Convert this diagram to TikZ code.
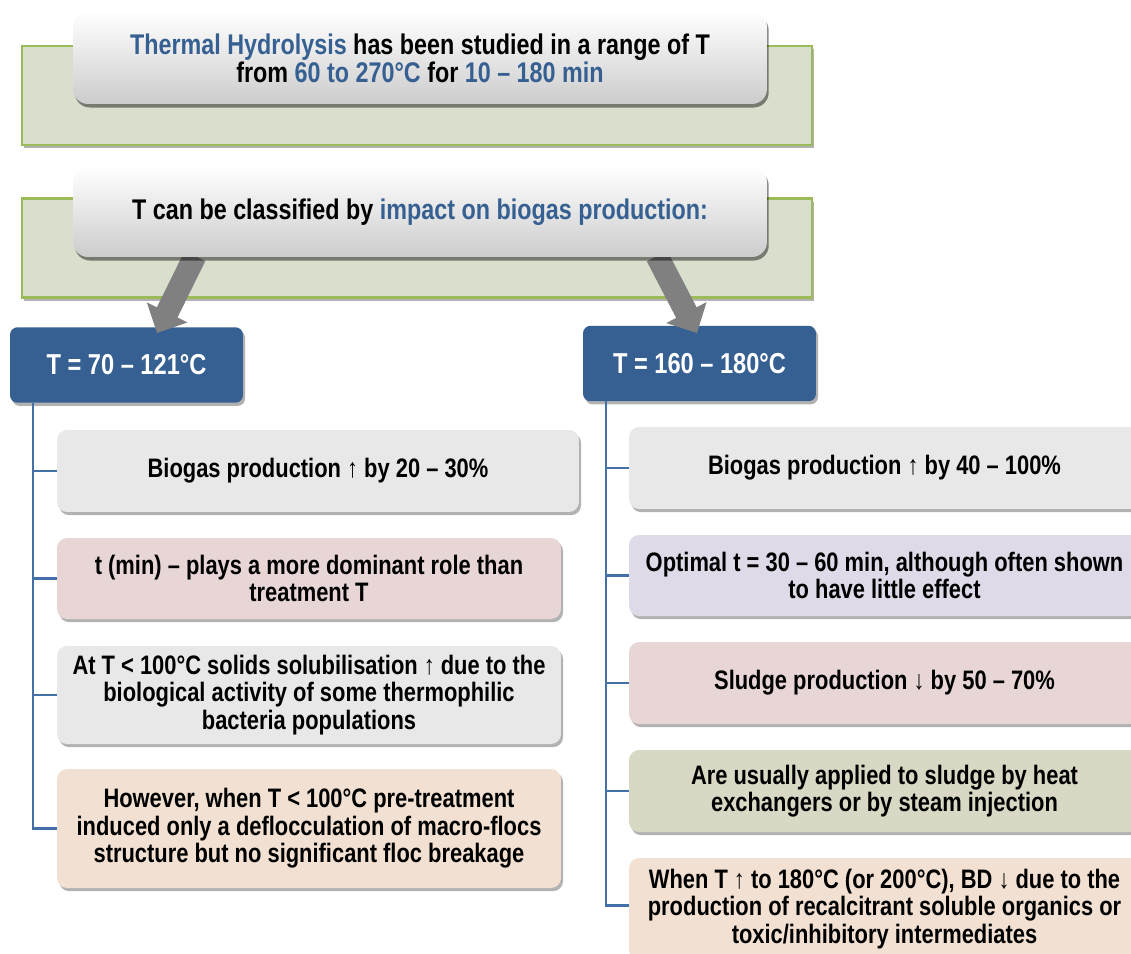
\documentclass[tikz,border=0pt]{standalone}
\usepackage{fontspec}
\setmainfont{Liberation Sans}[FakeStretch=0.82]
\usetikzlibrary{arrows.meta,shadows,calc}
\definecolor{tblue}{HTML}{366092}
\definecolor{bluebox}{HTML}{376092}
\definecolor{linecol}{HTML}{4470A8}
\definecolor{greenfill}{HTML}{D8DFCC}
\definecolor{greenline}{HTML}{9BBB59}
\definecolor{cgray}{HTML}{E8E8E8}
\definecolor{cpink}{HTML}{E8D6D7}
\definecolor{clav}{HTML}{DFDAE7}
\definecolor{colive}{HTML}{D8D8C5}
\definecolor{cpeach}{HTML}{F2E1D3}
\definecolor{arrowgray}{HTML}{808080}
\begin{document}
\begin{tikzpicture}[x=0.02cm,y=-0.02cm,
  font=\fontsize{15.2}{15.6}\selectfont\bfseries,
  shad/.style={drop shadow={shadow xshift=1.2pt,shadow yshift=-1.8pt,opacity=0.3,fill=black}},
  greenbox/.style={draw=greenline,line width=1.2pt,fill=greenfill,minimum width=15.8cm,minimum height=1.98cm,inner sep=0pt,shad},
  titlebox/.style={rounded corners=0.3cm,top color=white,bottom color=black!20,minimum width=13.88cm,inner sep=0pt,align=center,
     drop shadow={shadow xshift=1pt,shadow yshift=-2pt,opacity=0.45,fill=black},font=\fontsize{16.2}{15.8}\selectfont\bfseries},
  tbox/.style={rounded corners=0.15cm,fill=bluebox,text=white,minimum width=4.66cm,minimum height=1.51cm,inner sep=0pt,
     font=\fontsize{16.4}{16}\selectfont\bfseries,shad},
  item/.style={rounded corners=0.2cm,inner sep=0pt,align=center,shad},
  conn/.style={draw=linecol,line width=1.6pt},
  bigarrow/.style={draw=arrowgray,line width=0.46cm,-{Triangle[width=0.88cm,length=0.46cm]}}
]
\useasboundingbox (0,0) rectangle (1131,953);
\clip (0,0) rectangle (1131,953);
% green backgrounds
\node[greenbox] (g1) at (417,95.5) {};
\node[greenbox] (g2) at (417,248) {};
% blue headers
\node[tbox] (h1) at (126.5,365) {T = 70 – 121°C};
\node[tbox] (h2) at (699.5,363.5) {T = 160 – 180°C};
% arrows
\coordinate (a1from) at (195,256);
\coordinate (a1to) at (157,333);
\coordinate (a2from) at (657,256);
\coordinate (a2to) at (697,333);
\draw[bigarrow] (a1from) -- (a1to);
\draw[bigarrow] (a2from) -- (a2to);
% title boxes
\node[titlebox,minimum height=1.84cm] (b1) at (420,58)
  {\textcolor{tblue}{Thermal Hydrolysis} has been studied in a range of T\\
   from \textcolor{tblue}{60 to 270°C} for \textcolor{tblue}{10 – 180 min}};
\node[titlebox,minimum height=1.8cm] (b2) at (420,212)
  {T can be classified by \textcolor{tblue}{impact on biogas production:}};
% left items
\node[item,fill=cgray,minimum width=10.44cm,minimum height=1.64cm] (l1) at (318,471)
  {Biogas production ↑ by 20 – 30\%};
\node[item,fill=cpink,minimum width=10.08cm,minimum height=1.62cm] (l2) at (309,578.5)
  {t (min) – plays a more dominant role than\\ treatment T};
\node[item,fill=cgray,minimum width=10.08cm,minimum height=1.96cm] (l3) at (309,695)
  {At T < 100°C solids solubilisation ↑ due to the\\ biological activity of some thermophilic\\ bacteria populations};
\node[item,fill=cpeach,minimum width=10.08cm,minimum height=2.38cm] (l4) at (309,828.5)
  {However, when T < 100°C pre-treatment\\ induced only a deflocculation of macro-flocs\\ structure but no significant floc breakage};
% right items
\node[item,fill=cgray,minimum width=10.22cm,minimum height=1.64cm] (r1) at (884.5,468)
  {Biogas production ↑ by 40 – 100\%};
\node[item,fill=clav,minimum width=10.22cm,minimum height=1.62cm] (r2) at (884.5,575.5)
  {Optimal t = 30 – 60 min, although often shown\\ to have little effect};
\node[item,fill=cpink,minimum width=10.22cm,minimum height=1.64cm] (r3) at (884.5,683)
  {Sludge production ↓ by 50 – 70\%};
\node[item,fill=colive,minimum width=10.22cm,minimum height=1.64cm] (r4) at (884.5,791)
  {Are usually applied to sludge by heat\\ exchangers or by steam injection};
\node[item,fill=cpeach,minimum width=10.22cm,minimum height=2.04cm] (r5) at (884.5,909)
  {When T ↑ to 180°C (or 200°C), BD ↓ due to the\\ production of recalcitrant soluble organics or\\ toxic/inhibitory intermediates};
% connectors left
\coordinate (ls) at (33,403);
\draw[conn] (ls) |- (l4.west);
\foreach \n in {l1,l2,l3} \draw[conn] (\n.west -| ls) -- (\n.west);
% connectors right
\coordinate (rs) at (606,401);
\draw[conn] (rs) |- ([yshift=2pt]r5.west);
\foreach \n in {r1,r2,r3,r4} \draw[conn] (\n.west -| rs) -- (\n.west);
\end{tikzpicture}
\end{document}
